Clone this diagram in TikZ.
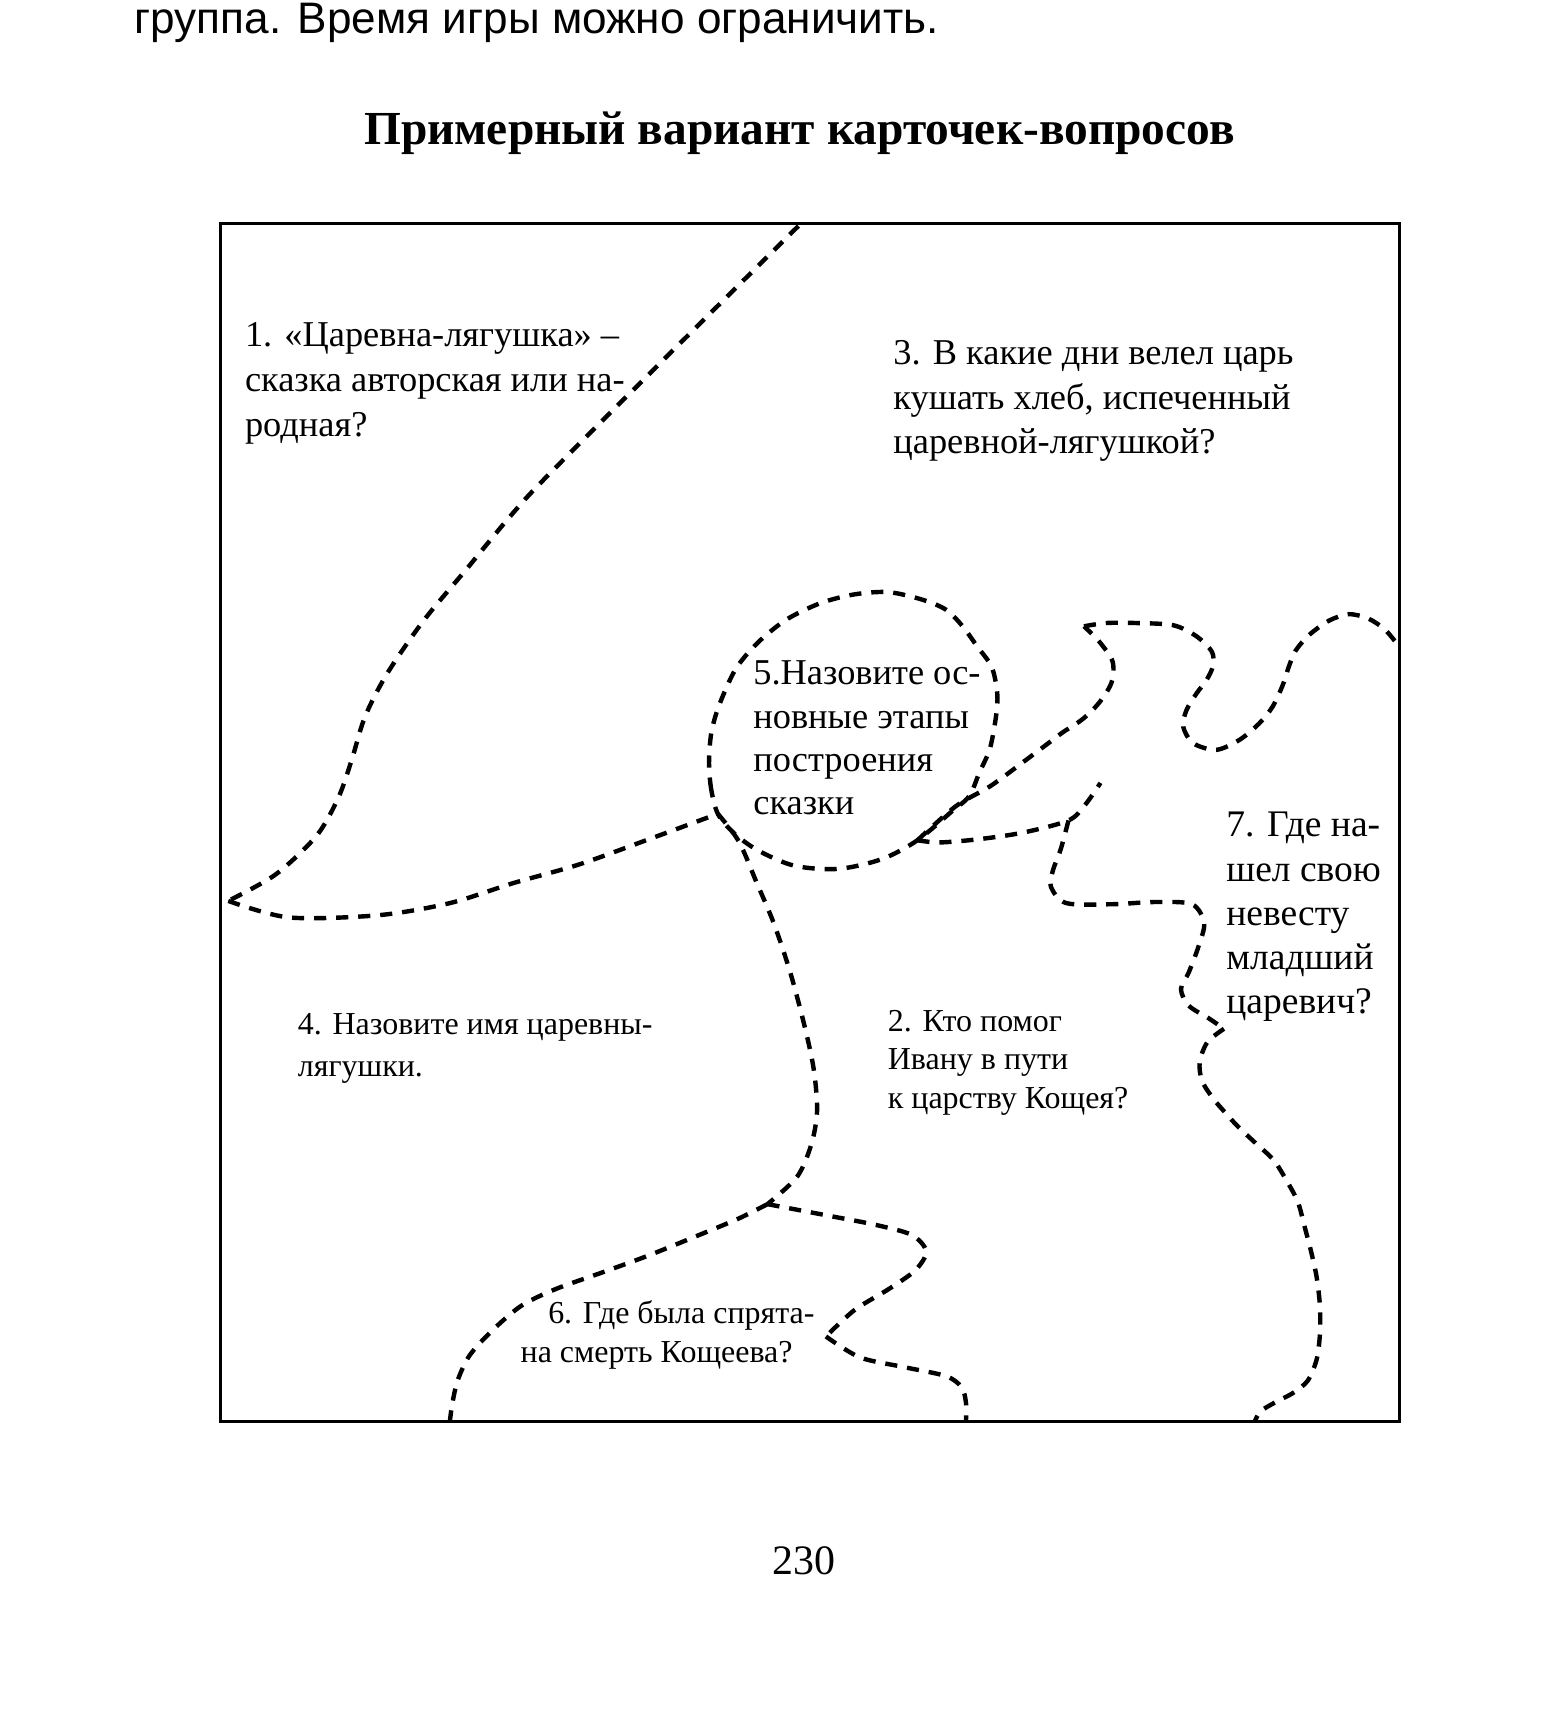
\documentclass[tikz,border=0pt]{standalone}
\usepackage{fontspec}
\setmainfont{Liberation Serif}
\newfontfamily\headfont{Liberation Sans}
\usetikzlibrary{positioning}
\tikzset{
    cutline/.style = {line width=4pt, dash pattern=on 11pt off 9pt, draw=black},
    frame/.style = {line width=3pt, draw=black},
    cardbig/.style = {anchor=base west, inner sep=0pt, align=left, font=\fontsize{33}{40}\selectfont},
    cardsmall/.style = {anchor=base west, inner sep=0pt, align=left, font=\fontsize{29}{36}\selectfont},
    pagetext/.style = {anchor=base, inner sep=0pt}
}

\begin{document}
\begin{tikzpicture}[x=1pt, y=-1pt]
    \useasboundingbox (0,0) rectangle (1399,1568);

    % page text
    \node[anchor=base west, inner sep=0pt, font=\headfont\fontsize{40}{46}\selectfont] (head) at (122,30) {группа. Время игры можно ограничить.};
    \node[pagetext, font=\bfseries\fontsize{43}{50}\selectfont] (title) at (725,131) {Примерный вариант карточек-вопросов};
    \node[pagetext, font=\fontsize{38}{44}\selectfont] (pagenum) at (729,1428) {230};

    \draw[frame] (200,203) rectangle (1269,1289);

    % cut points
    \coordinate (topA) at (724,205);
    \coordinate (leftAB) at (207,817);
    \coordinate (jq5) at (651,738);
    \coordinate (jcirc) at (832,762);
    \coordinate (cuspD) at (983,568);
    \coordinate (rightD) at (1267,584);
    \coordinate (jC) at (969,744);
    \coordinate (upC) at (998,710);
    \coordinate (cusp7) at (1110,933);
    \coordinate (bot7) at (1138,1289);
    \coordinate (jE) at (696,1092);
    \coordinate (cuspF) at (749,1212);
    \coordinate (botF) at (876,1289);
    \coordinate (botG) at (408,1289);

    % cut lines
    \draw[cutline] plot[smooth] coordinates {(topA) (610,318) (496,432) (462,469) (424,515) (384,563) (351,611) (331,650) (319,689) (307,723) (287,758) (250,793) (leftAB)};
    \draw[cutline] plot[smooth] coordinates {(leftAB) (262,832) (343,830) (408,819) (465,801) (525,784) (586,762) (jq5)};
    \draw[cutline] plot[smooth cycle] coordinates {(jq5) (645,716) (643,692) (645,665) (652,640) (667,607) (687,583) (713,562) (744,547) (775,539) (806,537) (837,544) (858,553) (873,568) (886,586) (899,604) (904,625) (904,644) (898,678) (888,701) (879,722) (863,736) (jcirc) (800,779) (760,788) (720,785) (687,771) (665,755)};
    \draw[cutline] plot[smooth] coordinates {(jq5) (670,763) (686,800) (702,838) (717,883) (730,932) (738,970) (741,1007) (736,1037) (723,1067) (jE)};
    \draw[cutline] plot[smooth] coordinates {(jE) (754,1103) (795,1111) (827,1120) (840,1135) (830,1152) (806,1169) (775,1188) (cuspF)};
    \draw[cutline] plot[smooth] coordinates {(cuspF) (780,1231) (821,1240) (858,1248) (872,1258) (876,1272) (botF)};
    \draw[cutline] plot[smooth] coordinates {(jE) (670,1105) (634,1120) (587,1139) (546,1154) (504,1169) (473,1184) (447,1206) (426,1229) (415,1252) (410,1274) (botG)};
    \draw[cutline] plot[smooth] coordinates {(jcirc) (867,731) (898,713) (928,691) (952,673) (964,664) (982,652) (997,637) (1008,619) (1009,600) (997,582) (cuspD)};
    \draw[cutline] plot[smooth] coordinates {(cuspD) (1003,565) (1030,565) (1064,567) (1085,577) (1099,591) (1100,604) (1094,617) (1085,629) (1076,644) (1073,659) (1082,674) (1103,680) (1124,671) (1142,656) (1154,641) (1163,622) (1169,604) (1175,590) (1187,576) (1205,563) (1223,557) (1241,561) (1256,571) (rightD)};
    \draw[cutline] plot[smooth] coordinates {(jcirc) (852,764) (888,761) (928,755) (jC) (984,730) (upC)};
    \draw[cutline] plot[smooth] coordinates {(jC) (962,770) (955,789) (953,804) (967,819) (1009,820) (1048,818) (1081,820) (1092,837) (1087,858) (1078,882) (1071,897) (1078,912) (1097,924) (cusp7)};
    \draw[cutline] plot[smooth] coordinates {(cusp7) (1095,945) (1088,963) (1090,980) (1100,996) (1112,1010) (1123,1022) (1139,1037) (1155,1052) (1167,1071) (1177,1090) (1183,1112) (1189,1135) (1194,1158) (1197,1184) (1197,1210) (1194,1233) (1186,1252) (1173,1263) (1156,1272) (1143,1280) (bot7)};

    % questions
    \node[cardbig, font=\fontsize{33}{41}\selectfont] (q1) at (222,396) {1. «Царевна-лягушка» –\\сказка авторская или на-\\родная?};
    \node[cardbig] (q3) at (810,411) {3. В какие дни велел царь\\кушать хлеб, испеченный\\царевной-лягушкой?};
    \node[cardbig, font=\fontsize{33}{39.3}\selectfont] (q5) at (683,739) {5.Назовите ос-\\новные этапы\\построения\\сказки};
    \node[cardbig, font=\fontsize{34}{40}\selectfont] (q7) at (1112,919) {7. Где на-\\шел свою\\невесту\\младший\\царевич?};
    \node[cardsmall, font=\fontsize{29}{38}\selectfont] (q4) at (270,976) {4. Назовите имя царевны-\\лягушки.};
    \node[cardsmall, font=\fontsize{29}{35}\selectfont] (q2) at (805,1005) {2. Кто помог\\Ивану в пути\\к царству Кощея?};
    \node[cardsmall] (q6) at (472,1236) {\hspace*{25pt}6. Где была спрята-\\на смерть Кощеева?};
\end{tikzpicture}
\end{document}
